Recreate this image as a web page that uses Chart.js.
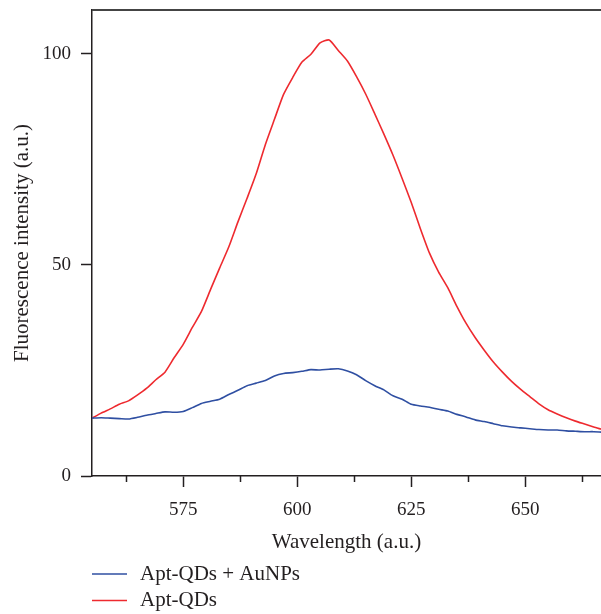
<!DOCTYPE html>
<html>
<head>
<meta charset="utf-8">
<script src="https://cdn.jsdelivr.net/npm/chart.js@4"></script>
<style>
  html, body { margin: 0; padding: 0; background: #fff; }
</style>
</head>
<body>
<canvas id="myChart" width="601" height="614"></canvas>
<script>
// wavelength grid (nm)
const wavelengths = [
  555, 557, 559, 561, 563, 565, 567, 569, 571, 573,
  575, 577, 579, 581, 583, 585, 587, 589, 591, 593,
  595, 597, 599, 601, 603, 605, 607, 609, 611, 613,
  615, 617, 619, 621, 623, 625, 627, 629, 631, 633,
  635, 637, 639, 641, 643, 645, 647, 649, 651, 653,
  655, 657, 659, 661, 663, 665, 666.6
];
// Apt-QDs (red)
const aptQds = [
  13.7, 14.9, 15.9, 17.0, 17.8, 19.2, 20.8, 22.8, 24.6, 28.0,
  31.2, 35.2, 39.0, 44.2, 49.3, 54.3, 60.2, 65.8, 71.6, 78.5,
  84.5, 90.4, 94.4, 98.0, 99.9, 102.6, 103.3, 100.8, 98.3, 94.6,
  90.5, 85.8, 81.0, 76.0, 70.5, 64.8, 58.6, 52.8, 48.3, 44.6,
  40.2, 36.2, 32.8, 29.8, 27.0, 24.6, 22.4, 20.5, 18.8, 17.1,
  15.7, 14.7, 13.8, 13.0, 12.3, 11.6, 11.1
];
// Apt-QDs + AuNPs (blue)
const aptQdsAuNPs = [
  13.7, 13.8, 13.7, 13.6, 13.5, 13.9, 14.4, 14.8, 15.2, 15.1,
  15.3, 16.2, 17.2, 17.7, 18.2, 19.3, 20.3, 21.4, 22.0, 22.6,
  23.7, 24.3, 24.5, 24.8, 25.2, 25.1, 25.3, 25.4, 24.9, 24.0,
  22.6, 21.4, 20.4, 19.0, 18.2, 17.0, 16.6, 16.3, 15.8, 15.4,
  14.6, 14.0, 13.3, 12.9, 12.4, 11.9, 11.6, 11.4, 11.2, 11.0,
  10.9, 10.9, 10.7, 10.6, 10.5, 10.5, 10.4
];
const xTicks = [575, 600, 625, 650];
const xMinorTicks = [562.5, 587.5, 612.5, 637.5, 662.5];
const yTicks = [0, 50, 100];

const serif = '"Liberation Serif", "DejaVu Serif", serif';
const ink = '#231f20';

const toPoints = ys => wavelengths.map((x, i) => ({ x: x, y: ys[i] }));

// top frame line, minor x ticks and the legend under the axis title
const extras = {
  id: 'extras',
  afterDraw(chart) {
    const ctx = chart.ctx;
    const area = chart.chartArea;
    const xs = chart.scales.x;
    ctx.save();
    ctx.strokeStyle = '#444';
    ctx.lineWidth = 2;
    ctx.beginPath();
    ctx.moveTo(area.left, area.top);
    ctx.lineTo(area.right, area.top);
    ctx.stroke();

    ctx.strokeStyle = ink;
    ctx.lineWidth = 1.5;
    xMinorTicks.forEach(v => {
      const px = Math.round(xs.getPixelForValue(v)) + 0.5;
      ctx.beginPath();
      ctx.moveTo(px, area.bottom);
      ctx.lineTo(px, area.bottom + 6);
      ctx.stroke();
    });

    ctx.font = '21px ' + serif;
    ctx.textBaseline = 'middle';
    ctx.fillStyle = ink;
    chart.data.datasets.forEach((ds, i) => {
      const y = 574 + i * 26.5;
      ctx.strokeStyle = ds.borderColor;
      ctx.lineWidth = 1.5;
      ctx.beginPath();
      ctx.moveTo(92, y);
      ctx.lineTo(127, y);
      ctx.stroke();
      ctx.fillText(ds.label, 140, y);
    });
    ctx.restore();
  }
};

const myChart = document.getElementById('myChart').getContext('2d');

const spectraChart = new Chart(myChart, {
  type: 'line',
  data: {
    datasets: [
      {
        label: 'Apt-QDs + AuNPs',
        data: toPoints(aptQdsAuNPs),
        borderColor: '#2f4fa2',
        borderWidth: 1.6,
        pointRadius: 0,
        tension: 0.2,
        fill: false
      },
      {
        label: 'Apt-QDs',
        data: toPoints(aptQds),
        borderColor: '#ee2a2f',
        borderWidth: 1.6,
        pointRadius: 0,
        tension: 0.2,
        fill: false
      }
    ]
  },
  options: {
    responsive: false,
    animation: false,
    events: [],
    layout: { padding: { top: 10, right: 0, left: 0, bottom: 0 } },
    plugins: {
      legend: { display: false },
      tooltip: { enabled: false }
    },
    scales: {
      x: {
        type: 'linear',
        min: 555,
        max: 666.6,
        afterBuildTicks: s => { s.ticks = xTicks.map(v => ({ value: v })); },
        afterFit: s => { s.height = 138; s.paddingLeft = 0; s.paddingRight = 0; },
        border: { display: true, color: ink, width: 1.5 },
        grid: { drawOnChartArea: false, drawTicks: true, tickLength: 11, tickColor: ink, tickWidth: 1.5 },
        ticks: { color: ink, font: { family: serif, size: 19 }, padding: 12, maxRotation: 0 },
        title: {
          display: true,
          text: 'Wavelength (a.u.)',
          color: ink,
          font: { family: serif, size: 21 },
          padding: { top: 0, bottom: 59 }
        }
      },
      y: {
        min: 0,
        max: 110.4,
        afterBuildTicks: s => { s.ticks = yTicks.map(v => ({ value: v })); },
        afterFit: s => { s.width = 92; s.paddingTop = 0; s.paddingBottom = 0; },
        border: { display: true, color: ink, width: 1.5 },
        grid: { drawOnChartArea: false, drawTicks: true, tickLength: 11, tickColor: ink, tickWidth: 1.5 },
        ticks: { color: ink, font: { family: serif, size: 19 }, padding: 10 },
        title: {
          display: true,
          text: 'Fluorescence intensity (a.u.)',
          color: ink,
          font: { family: serif, size: 21 },
          padding: { top: 10, bottom: 0 }
        }
      }
    }
  },
  plugins: [extras]
});
</script>
</body>
</html>
